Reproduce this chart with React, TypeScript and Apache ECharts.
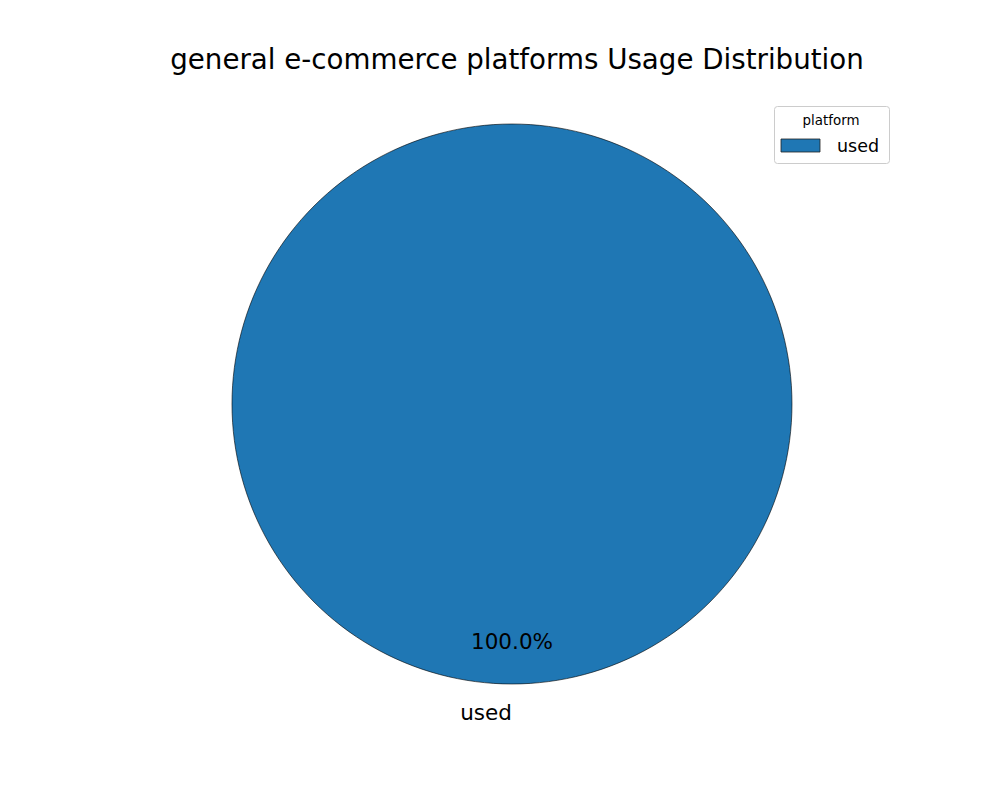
import React, { useEffect, useRef } from "react";
import * as echarts from "echarts";

const categories: string[] = ["used"];
const values: number[] = [100];
const colors: string[] = ["#1f77b4"];
const titleText = "general e-commerce platforms Usage Distribution";
const legendTitle = "platform";

const FONT = "DejaVu Sans, Verdana, sans-serif";

export default function App() {
  const ref = useRef<HTMLDivElement>(null);
  useEffect(() => {
    if (!ref.current) return;
    const chart = echarts.init(ref.current, undefined, { renderer: "svg" });
    const total = values.reduce((a, b) => a + b, 0);
    const data = categories.map((c, i) => ({
      name: c,
      value: values[i],
      itemStyle: { color: colors[i % colors.length] },
    }));
    const cx = 512;
    const cy = 404;
    const R = 280;
    const legendItems: any[] = [];
    categories.forEach((c, i) => {
      legendItems.push({
        type: "rect",
        shape: { x: 781, y: 139 + i * 24, width: 39, height: 13 },
        style: { fill: colors[i % colors.length], stroke: "#222", lineWidth: 0.8 },
      });
      legendItems.push({
        type: "text",
        x: 837,
        y: 146 + i * 24,
        style: {
          text: c,
          font: `17.5px ${FONT}`,
          fill: "#000",
          textAlign: "left",
          textVerticalAlign: "middle",
        },
      });
    });
    chart.setOption({
      animation: false,
      backgroundColor: "#fff",
      title: {
        text: titleText,
        left: 512,
        textAlign: "center",
        top: 40,
        textStyle: { fontFamily: FONT, fontSize: 27.7, fontWeight: "normal", color: "#000" },
      },
      graphic: [
        {
          type: "rect",
          shape: { x: 774.5, y: 106.5, width: 115, height: 57, r: 3 },
          style: { fill: "rgba(255,255,255,0.8)", stroke: "#cccccc", lineWidth: 1 },
          z: 10,
        },
        {
          type: "text",
          x: 831,
          y: 120,
          z: 11,
          style: {
            text: legendTitle,
            font: `13.4px ${FONT}`,
            fill: "#000",
            textAlign: "center",
            textVerticalAlign: "middle",
          },
        },
        ...legendItems.map((g) => ({ ...g, z: 11 })),
      ],
      series: [
        {
          type: "pie",
          center: [cx, cy],
          radius: [0, R],
          startAngle: 90,
          clockwise: true,
          silent: true,
          data,
          itemStyle: { borderColor: "#000", borderWidth: 0.6 },
          label: { show: false },
          labelLine: { show: false },
          z: 2,
        },
        {
          type: "pie",
          center: [cx, cy],
          radius: [0, R * 0.85 * 2 - 8],
          startAngle: 90,
          clockwise: true,
          silent: true,
          data: data.map((d) => ({ ...d, itemStyle: { color: "rgba(0,0,0,0)" } })),
          itemStyle: { borderWidth: 0 },
          label: {
            show: true,
            position: "inside",
            formatter: (p: any) => ((p.value / total) * 100).toFixed(1) + "%",
            fontFamily: FONT,
            fontSize: 21.5,
            color: "#000",
          },
          labelLine: { show: false },
          z: 3,
        },
        {
          type: "pie",
          center: [cx, cy],
          radius: [0, R * 1.1 * 2 - 6],
          startAngle: 90,
          clockwise: true,
          silent: true,
          data: data.map((d) => ({ ...d, itemStyle: { color: "rgba(0,0,0,0)" } })),
          itemStyle: { borderWidth: 0 },
          label: {
            show: true,
            position: "inside",
            formatter: "{b}",
            fontFamily: FONT,
            fontSize: 21.5,
            color: "#000",
            offset: [-26, 0],
          },
          labelLine: { show: false },
          z: 3,
        },
      ],
    });
    return () => chart.dispose();
  }, []);
  return (
    <div
      ref={ref}
      style={{ position: "fixed", left: 0, top: 0, width: 1000, height: 800 }}
    />
  );
}
